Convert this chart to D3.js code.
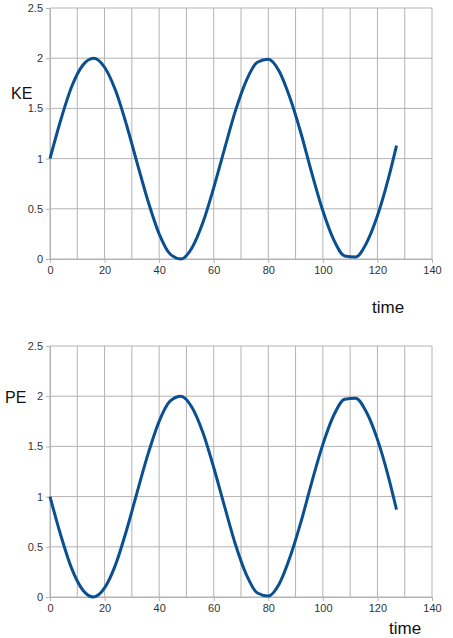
<!DOCTYPE html>
<html><head><meta charset="utf-8">
<script src="https://cdn.jsdelivr.net/npm/d3@7"></script>
<style>body{margin:0;background:#fff;font-family:"Liberation Sans",Arial,sans-serif}</style>
</head><body>
<script>
// values
var time = [0,4,8,12,16,20,24,28,32,36,40,44,48,52,56,60,64,68,72,76,80,84,88,92,96,100,104,108,112,116,120,124,127];
var ke = [1,1.39,1.72,1.93,2,1.91,1.68,1.34,0.95,0.57,0.25,0.05,0,0.11,0.36,0.71,1.1,1.48,1.78,1.96,1.99,1.87,1.6,1.25,0.85,0.48,0.19,0.03,0.02,0.16,0.43,0.8,1.13];
var pe = [1,0.61,0.28,0.07,0,0.09,0.32,0.66,1.05,1.43,1.75,1.95,2,1.89,1.64,1.29,0.9,0.52,0.22,0.04,0.01,0.13,0.4,0.75,1.15,1.52,1.81,1.97,1.98,1.84,1.57,1.2,0.87];
var xTicks = d3.range(0, 141, 20);
var yTicks = [0,0.5,1,1.5,2,2.5];

var svg = d3.select("body").append("svg").attr("width",453).attr("height",638);

function chart(top, vals, label, labelPos, timePos) {
  var x = d3.scaleLinear().domain([0,140]).range([50,432]);
  var y = d3.scaleLinear().domain([0,2.5]).range([top+251, top]);
  var g = svg.append("g");
  g.selectAll(".vg").data(d3.range(0,141,10)).enter().append("line")
    .attr("x1",d=>x(d)).attr("x2",d=>x(d)).attr("y1",y(0)).attr("y2",y(2.5))
    .attr("stroke","#b3b3b3").attr("stroke-width",1);
  g.selectAll(".hg").data(yTicks).enter().append("line")
    .attr("x1",x(0)).attr("x2",x(140)).attr("y1",d=>y(d)).attr("y2",d=>y(d))
    .attr("stroke","#b3b3b3").attr("stroke-width",1);
  var xa = g.append("g").attr("transform","translate(0,"+y(0)+")")
    .call(d3.axisBottom(x).tickValues(xTicks).tickSize(4).tickFormat(d3.format("d")));
  var ya = g.append("g").attr("transform","translate("+x(0)+",0)")
    .call(d3.axisLeft(y).tickValues(yTicks).tickSize(4).tickFormat(d=>d));
  [xa,ya].forEach(a=>{a.select(".domain").attr("stroke","#b3b3b3");
    a.selectAll("line").attr("stroke","#b3b3b3");
    a.selectAll("text").attr("font-size",11).attr("fill","#333")
     .attr("font-family","Liberation Sans, Arial");});
  var line = d3.line().x((d,i)=>x(time[i])).y(d=>y(d)).curve(d3.curveMonotoneX);
  g.append("path").datum(vals).attr("d",line).attr("fill","none")
    .attr("stroke","#0a4f8f").attr("stroke-width",3);
  g.append("text").attr("x",labelPos[0]).attr("y",labelPos[1]).text(label)
    .attr("font-size",16).attr("fill","#111");
  g.append("text").attr("x",timePos[0]).attr("y",timePos[1]).text("time")
    .attr("font-size",17).attr("fill","#111");
}
chart(8, ke, "KE", [11,99], [372,313]);
chart(346, pe, "PE", [5,403], [389,634]);
</script>
</body></html>
